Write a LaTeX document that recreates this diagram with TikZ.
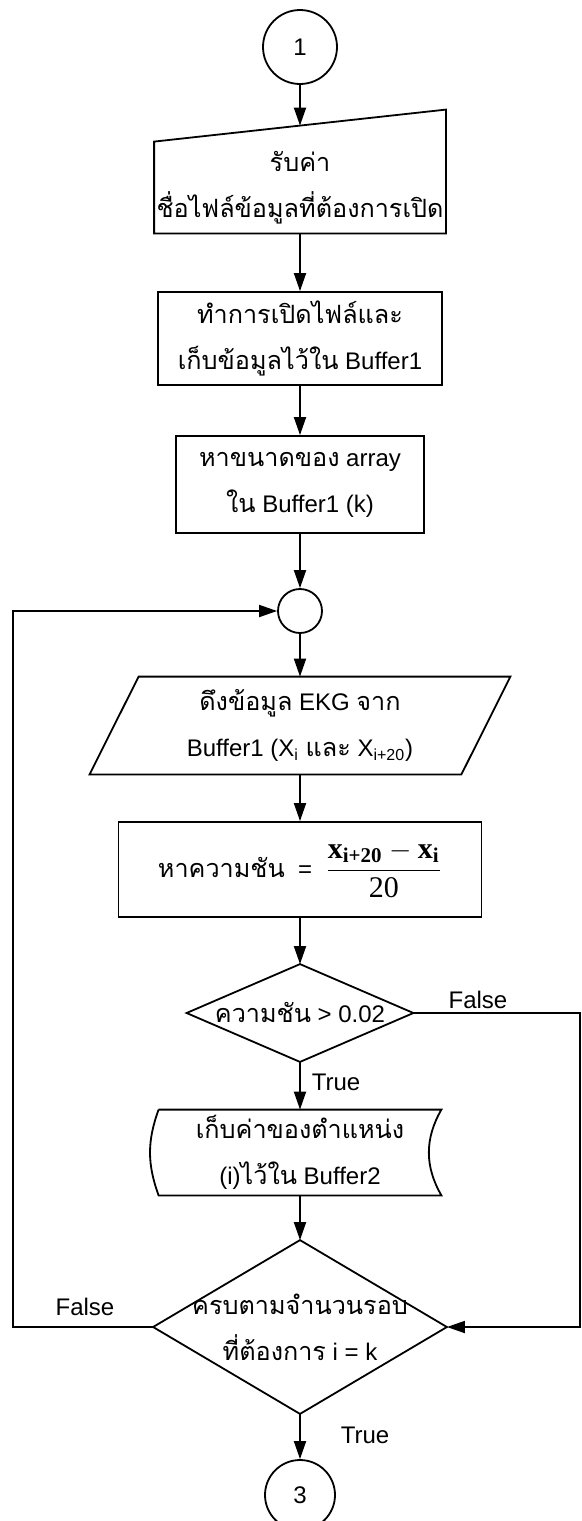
\documentclass[tikz,border=0pt]{standalone}
\usepackage{amsmath}
\usepackage{fontspec}
\setmainfont{Liberation Sans}
\newfontfamily\thaifont[Script=Thai,Scale=1.05]{Loma}
\newfontfamily\serifx{Liberation Serif}
\newcommand\sx[1]{\text{\serifx\bfseries #1}}
\usetikzlibrary{arrows.meta,calc}

\begin{document}
\begin{tikzpicture}[x=0.5pt, y=-0.5pt,
    base/.style={font=\fontsize{12}{23}\selectfont, align=center, inner sep=0pt},
    conector/.style={base, circle, draw, line width=0.9pt},
    proceso/.style={base, rectangle, draw, line width=0.9pt},
    forma/.style={base, rectangle},
    borde/.style={line width=0.9pt},
    flecha/.style={line width=0.9pt, -{Triangle[length=9pt,width=6pt]}},
    etiq/.style={font=\fontsize{12}{14}\selectfont, inner sep=1pt}]
  \useasboundingbox (0,0) rectangle (582,1521);
  \node[conector, minimum size=37pt] (c1) at (300,47) {1};
  \node[forma, minimum width=145.5pt, minimum height=45.5pt] (inp) at (300,187.5)
    {{\thaifont รับค่า}\\{\thaifont ชื่อไฟล์ข้อมูลที่ต้องการเปิด}};
  \draw[borde] (inp.south west) -- (inp.south east) -- ($(inp.north east)+(0,-32)$)
    -- (inp.north west) -- cycle;
  \coordinate (inptop) at ($(inp.north)+(0,-16)$);
  \node[proceso, minimum width=142pt, minimum height=46.5pt] (open) at (300,338.5)
    {{\thaifont ทำการเปิดไฟล์และ}\\{\thaifont เก็บข้อมูลไว้ใน} Buffer1};
  \node[proceso, minimum width=124pt, minimum height=48.5pt] (size) at (300,484.5)
    {{\thaifont หาขนาดของ} array\\{\thaifont ใน} Buffer1 (k)};
  \node[conector, minimum size=22pt] (jn) at (300,611) {};
  \node[forma, minimum width=185.5pt, minimum height=48.5pt] (data) at (300,725.5)
    {{\thaifont ดึงข้อมูล} EKG {\thaifont จาก}\\Buffer1 (X\textsubscript{i} {\thaifont และ} X\textsubscript{i+20})};
  \draw[borde] ($(data.north west)+(24.5,0)$) -- ($(data.north east)+(24.5,0)$)
    -- ($(data.south east)+(-24.5,0)$) -- ($(data.south west)+(-24.5,0)$) -- cycle;
  \node[proceso, minimum width=181.5pt, minimum height=47.5pt] (slope) at (300,869.5)
    {{\thaifont หาความชัน}\ \ =\ \ {\fontsize{15}{17}\selectfont
      $\displaystyle\frac{\sx{x}_{\sx{i+20}}-\sx{x}_{\sx{i}}}{\text{\serifx 20}}$}};
  \node[forma, minimum width=113pt, minimum height=48.5pt] (cond1) at (300,1013)
    {{\thaifont ความชัน} > 0.02};
  \draw[borde] (cond1.north) -- (cond1.east) -- (cond1.south) -- (cond1.west) -- cycle;
  \node[forma, minimum width=141pt, minimum height=42.5pt] (store) at (300,1152.5)
    {{\thaifont เก็บค่าของตำแหน่ง}\\(i){\thaifont ไว้ใน} Buffer2};
  \draw[borde] (store.north west) -- (store.north east) to[bend right=30] (store.south east)
    -- (store.south west) to[bend left=20] (store.north west);
  \node[forma, minimum width=146.5pt, minimum height=86.5pt] (cond2) at (300,1327)
    {{\thaifont ครบตามจำนวนรอบ}\\{\thaifont ที่ต้องการ} i = k};
  \draw[borde] (cond2.north) -- (cond2.east) -- (cond2.south) -- (cond2.west) -- cycle;
  \node[conector, minimum size=35pt] (c3) at (300,1495) {3};
  \node[etiq] (f1) at (478,1000) {False};
  \node[etiq] (t1) at (336,1082) {True};
  \node[etiq] (f2) at (85,1307) {False};
  \node[etiq] (t2) at (365,1435) {True};
  \coordinate (izq) at (13,1327);
  \coordinate (der) at (580,1013);
  \draw[flecha] (c1) -- (inptop);
  \draw[flecha] (inp.south) -- (open.north);
  \draw[flecha] (open.south) -- (size.north);
  \draw[flecha] (size.south) -- (jn.north);
  \draw[flecha] (jn.south) -- (data.north);
  \draw[flecha] (data.south) -- (slope.north);
  \draw[flecha] (slope.south) -- (cond1.north);
  \draw[flecha] (cond1.south) -- (store.north);
  \draw[flecha] (store.south) -- (cond2.north);
  \draw[flecha] (cond2.south) -- (c3.north);
  \draw[flecha] (cond2.west) -- (izq) |- (jn.west);
  \draw[flecha] (cond1.east) -- (der) |- (cond2.east);
\end{tikzpicture}
\end{document}
